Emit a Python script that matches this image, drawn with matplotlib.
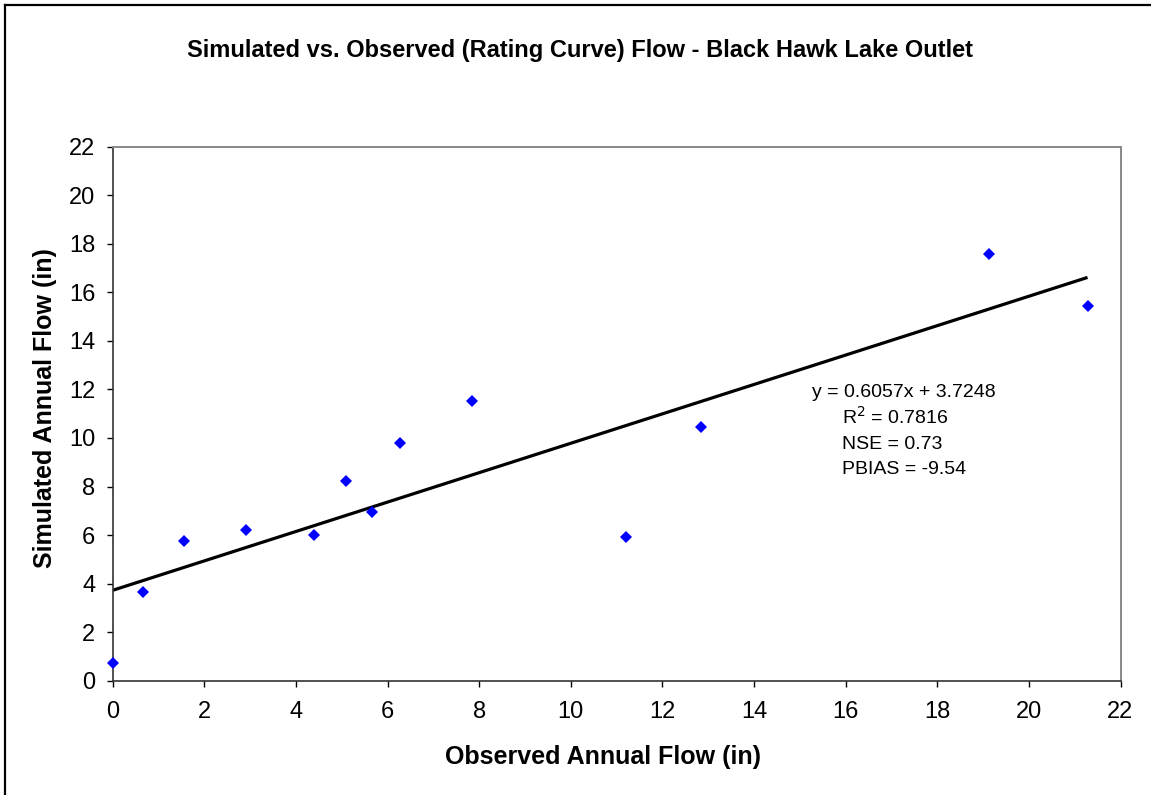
import matplotlib
matplotlib.use("Agg")
import matplotlib.pyplot as plt
from matplotlib.lines import Line2D

plt.rcParams['font.family'] = ['Liberation Sans', 'DejaVu Sans']

# Annual flows (inches)
observed = [0.00, 0.67, 1.56, 2.90, 4.40, 5.09, 5.67, 6.27, 7.85, 11.20, 12.84, 19.13, 21.28]
simulated = [0.73, 3.64, 5.76, 6.20, 6.00, 8.23, 6.94, 9.79, 11.51, 5.93, 10.45, 17.58, 15.44]

slope = 0.6057
intercept = 3.7248
stats_lines = ["R$^2$ = 0.7816", "NSE = 0.73", "PBIAS = -9.54"]

x_ticks = list(range(0, 23, 2))
y_ticks = list(range(0, 23, 2))

W, H = 1151, 795
fig = plt.figure(figsize=(W / 100, H / 100), dpi=100)
fig.patch.set_facecolor('white')

# chart-area frame
fig.add_artist(Line2D([4.5 / W, 4.5 / W], [0, 1 - 4.5 / H], color='black', lw=1.6, transform=fig.transFigure))
fig.add_artist(Line2D([4.5 / W, 1], [1 - 4.5 / H, 1 - 4.5 / H], color='black', lw=1.6, transform=fig.transFigure))

left, right = 112.7 / W, 1120.5 / W
bottom, top = 1 - 680.7 / H, 1 - 146.7 / H
ax = fig.add_axes([left, bottom, right - left, top - bottom])

ax.set_xlim(0, 22)
ax.set_ylim(0, 22)
ax.set_xticks(x_ticks)
ax.set_yticks(y_ticks)
ax.tick_params(direction='out', length=4.5, width=1, colors='black', labelsize=17)
ax.tick_params(axis='y', pad=8)
ax.tick_params(axis='x', pad=10)

for side in ('left', 'bottom'):
    ax.spines[side].set_color('#333333')
    ax.spines[side].set_linewidth(1.2)
for side in ('top', 'right'):
    ax.spines[side].set_color('#888888')
    ax.spines[side].set_linewidth(1.4)

# trend line across the observed range
x_fit = [min(observed), max(observed)]
y_fit = [slope * v + intercept for v in x_fit]
ax.plot(x_fit, y_fit, color='black', lw=2.3, solid_capstyle='butt', zorder=2)

ax.plot(observed, simulated, linestyle='none', marker='D', markersize=6.2,
        markerfacecolor='#0000FF', markeredgewidth=0, zorder=3, clip_on=False)

fig.text(580 / W, 1 - 50 / H,
         "Simulated vs. Observed (Rating Curve) Flow - Black Hawk Lake Outlet",
         ha='center', va='center', fontsize=17, fontweight='bold')
fig.text(603 / W, 1 - 757 / H, "Observed Annual Flow (in)",
         ha='center', va='center', fontsize=18, fontweight='bold')
fig.text(45 / W, 1 - 408 / H, "Simulated Annual Flow (in)",
         ha='center', va='center', fontsize=18, fontweight='bold', rotation=90)

fig.text(812 / W, 1 - 397 / H, f"y = {slope}x + {intercept}",
         ha='left', va='baseline', fontsize=14)
for i, yb in enumerate([423.5, 449.0, 474.5]):
    fig.text(842 / W, 1 - yb / H, stats_lines[i], ha='left', va='baseline', fontsize=14)

fig.savefig('out.png', dpi=100, facecolor='white')
